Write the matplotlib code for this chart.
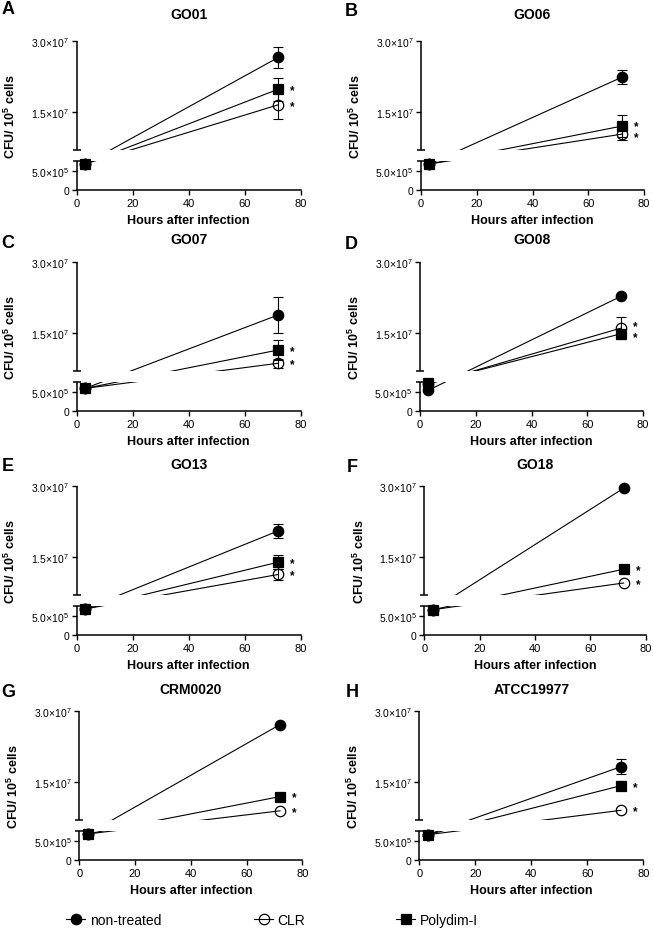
import numpy as np
import matplotlib
matplotlib.use("Agg")
import matplotlib.pyplot as plt
from matplotlib.lines import Line2D
from matplotlib.patches import Rectangle

plt.rcParams.update({
    "font.family": ["Liberation Sans", "DejaVu Sans"],
    "mathtext.fontset": "custom",
    "mathtext.rm": "Liberation Sans",
    "mathtext.default": "regular",
    "axes.linewidth": 1.1,
})

# ── data (CFU / 10^5 cells) ──────────────────────────────────────────────────
hours = [3, 72]
strains = ["GO01", "GO06", "GO07", "GO08", "GO13", "GO18", "CRM0020", "ATCC19977"]
letters = ["A", "B", "C", "D", "E", "F", "G", "H"]

non_treated = [[6.8e5, 2.66e7], [6.8e5, 2.24e7], [5.9e5, 1.89e7], [5.4e5, 2.28e7],
               [6.8e5, 2.06e7], [6.6e5, 2.96e7], [6.8e5, 2.72e7], [6.6e5, 1.83e7]]
non_treated_err = [[0, 2.3e6], [0, 1.5e6], [0, 3.8e6], [0, 0],
                   [0, 1.5e6], [0, 0], [0, 0], [0, 1.6e6]]
clr = [[6.8e5, 1.66e7], [6.8e5, 1.04e7], [5.9e5, 8.7e6], [7.0e5, 1.61e7],
       [6.8e5, 1.14e7], [6.6e5, 9.6e6], [6.8e5, 9.0e6], [6.6e5, 9.1e6]]
clr_err = [[0, 2.9e6], [0, 1.2e6], [0, 1.0e6], [0, 2.3e6],
           [0, 1.2e6], [0, 0], [0, 0], [0, 0]]
polydim = [[6.8e5, 1.99e7], [6.8e5, 1.21e7], [5.9e5, 1.15e7], [7.3e5, 1.49e7],
           [6.8e5, 1.40e7], [6.6e5, 1.25e7], [6.8e5, 1.20e7], [6.6e5, 1.43e7]]
polydim_err = [[0, 2.4e6], [0, 2.3e6], [0, 2.2e6], [0, 5e5],
               [0, 1.4e6], [0, 0], [0, 0], [0, 1.0e6]]

y_ticks = [0, 5e5, 1.5e7, 3e7]
y_tick_labels = ["0", "5.0×10$^{5}$", "1.5×10$^{7}$", "3.0×10$^{7}$"]
x_ticks = [0, 20, 40, 60, 80]

# ── broken y axis: piecewise linear scale ────────────────────────────────────
Y_LOW_TOP, Y_UP_BOT, Y_TOP = 7.5e5, 7e6, 3e7
H_LOW, H_GAP, H_UP = 28.5, 11.0, 109.0


def fwd(v):
    v = np.asarray(v, dtype=float)
    low = v / Y_LOW_TOP * H_LOW
    mid = H_LOW + (v - Y_LOW_TOP) / (Y_UP_BOT - Y_LOW_TOP) * H_GAP
    up = H_LOW + H_GAP + (v - Y_UP_BOT) / (Y_TOP - Y_UP_BOT) * H_UP
    return np.where(v <= Y_LOW_TOP, low, np.where(v < Y_UP_BOT, mid, up))


def inv(u):
    u = np.asarray(u, dtype=float)
    low = u / H_LOW * Y_LOW_TOP
    mid = Y_LOW_TOP + (u - H_LOW) / H_GAP * (Y_UP_BOT - Y_LOW_TOP)
    up = Y_UP_BOT + (u - H_LOW - H_GAP) / H_UP * (Y_TOP - Y_UP_BOT)
    return np.where(u <= H_LOW, low, np.where(u < H_LOW + H_GAP, mid, up))


# ── layout (pixels) ──────────────────────────────────────────────────────────
W, H = 653, 929
panel_x0 = [76.7, 421, 76.7, 420, 76.7, 424.3, 79.3, 419.3]
panel_w = [224, 223, 224, 223, 224, 221.5, 223, 224]
panel_top = [42.3, 42.3, 263.3, 263.3, 487.3, 487.3, 712.3, 712.3]
panel_h = 148.5
title_gap = [27, 27, 23, 23, 22, 22, 22, 22]
letter_xy = [(1.5, 1.5), (345, 2.5), (1.5, 235), (345, 236),
             (1.5, 458), (347, 459), (1.5, 684), (346, 684)]
STAR_MIN_SEP = 11.0  # px between the two asterisks of a panel

series = [
    ("non-treated", non_treated, non_treated_err, "o", "black", 7.5, False),
    ("CLR", clr, clr_err, "o", "none", 7.5, True),
    ("Polydim-I", polydim, polydim_err, "s", "black", 7.0, True),
]

fig = plt.figure(figsize=(W / 100, H / 100), dpi=100)
px_to_pt = 72 / fig.dpi

for i, strain in enumerate(strains):
    x0, w, top = panel_x0[i], panel_w[i], panel_top[i]
    ax = fig.add_axes([x0 / W, 1 - (top + panel_h) / H, w / W, panel_h / H])
    ax.set_yscale("function", functions=(fwd, inv))
    ax.set_ylim(0, Y_TOP)
    ax.set_xlim(0, 80)

    ytrans = ax.get_yaxis_transform()
    lower_clip = Rectangle((0, 0), 1, Y_LOW_TOP, transform=ytrans)
    upper_clip = Rectangle((0, Y_UP_BOT), 1, Y_TOP - Y_UP_BOT, transform=ytrans)

    stars = []
    for name, vals, errs, mk, fc, ms, star in series:
        v, e = vals[i], errs[i]
        # connecting line, drawn straight on screen and hidden in the break
        for clip in (lower_clip, upper_clip):
            ln, = ax.plot(hours, v, "-", color="black", lw=0.8, zorder=2)
            ln.set_clip_path(clip)
        xe = [h for h, ee in zip(hours, e) if ee > 0]
        if xe:
            ve = [vv for vv, ee in zip(v, e) if ee > 0]
            ee = [ee for ee in e if ee > 0]
            ax.errorbar(xe, ve, yerr=ee, fmt="none", ecolor="black",
                        elinewidth=0.8, capsize=3.5, capthick=0.8,
                        clip_on=False, zorder=3)
        ax.plot(hours, v, linestyle="none", marker=mk, ms=ms, mfc=fc,
                mec="black", mew=0.9, clip_on=False, zorder=4)
        if star:
            stars.append((hours[-1], v[-1]))

    # asterisks next to the 72 h points, nudged apart when they crowd
    ys = [ax.transData.transform((sx, sy))[1] for sx, sy in stars]
    shifts = [0.0] * len(stars)
    if len(ys) == 2 and abs(ys[0] - ys[1]) < STAR_MIN_SEP:
        push = (STAR_MIN_SEP - abs(ys[0] - ys[1])) / 2
        hi = 0 if ys[0] >= ys[1] else 1
        shifts[hi], shifts[1 - hi] = push, -push
    for (sx, sy), sh in zip(stars, shifts):
        ax.annotate("$*$", (sx, sy), xytext=(8, sh * px_to_pt),
                    textcoords="offset points", ha="left", va="center",
                    fontsize=8.5, fontweight="bold")

    # broken left spine
    for lo, hi in ((0, Y_LOW_TOP), (Y_UP_BOT, Y_TOP)):
        ax.add_line(Line2D([0, 0], [lo, hi], transform=ytrans, color="black",
                           lw=1.1, clip_on=False, solid_capstyle="butt"))
    for side in ("left", "top", "right"):
        ax.spines[side].set_visible(False)

    ax.set_yticks(y_ticks)
    ax.set_yticklabels(y_tick_labels)
    ax.set_yticks([Y_LOW_TOP, Y_UP_BOT], minor=True)
    ax.tick_params(axis="y", which="major", direction="out", length=3.5,
                   width=1.0, labelsize=7.5, pad=2)
    ax.tick_params(axis="y", which="minor", direction="inout", length=6,
                   width=1.1)
    ax.set_xticks(x_ticks)
    ax.tick_params(axis="x", direction="out", length=3.5, width=1.0,
                   labelsize=8, pad=2.5)

    ax.set_xlabel("Hours after infection", fontsize=9, fontweight="bold",
                  labelpad=4)
    ax.set_ylabel("CFU/ 10$^{5}$ cells", fontsize=9, fontweight="bold")
    ax.yaxis.set_label_coords(-0.26, 0.5)
    ax.text(0.5, 1 + title_gap[i] / panel_h, strain, transform=ax.transAxes,
            ha="center", va="center", fontsize=10, fontweight="bold")
    lx, ly = letter_xy[i]
    fig.text(lx / W, 1 - ly / H, letters[i], ha="left", va="top",
             fontsize=13, fontweight="bold")

# ── legend ───────────────────────────────────────────────────────────────────
legend_x = [66, 254, 396]
for (name, _, _, mk, fc, ms, _), lx in zip(series, legend_x):
    handle = Line2D([], [], color="black", lw=0.8, marker=mk, ms=ms, mfc=fc,
                    mec="black", mew=0.9)
    fig.legend([handle], [name], loc="center left",
               bbox_to_anchor=(lx / W, 1 - 921 / H), frameon=False,
               fontsize=10, handlelength=1.4, handletextpad=0.3,
               borderpad=0, borderaxespad=0)

fig.savefig("out.png", dpi=100)
